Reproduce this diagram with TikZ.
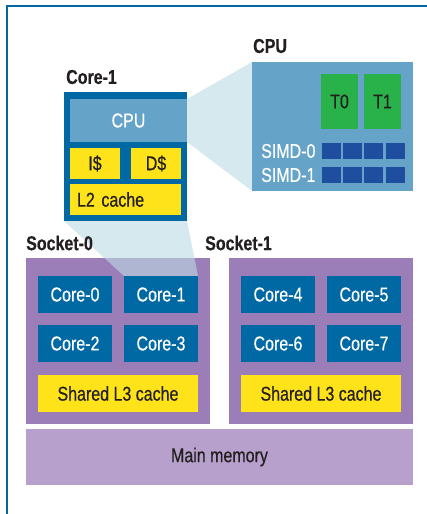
\documentclass[tikz,border=0pt]{standalone}
\usepackage{fontspec}
\setmainfont{Liberation Sans}[FakeStretch=0.8,FakeBold=0.5]
\usetikzlibrary{calc}

\definecolor{coreblue}{HTML}{0069A3}
\definecolor{cpublue}{HTML}{65A3C9}
\definecolor{zoomcyan}{HTML}{BCDBE3}
\definecolor{cacheyellow}{HTML}{FFE31A}
\definecolor{thrgreen}{HTML}{2AB24A}
\definecolor{simdblue}{HTML}{1F4E9E}
\definecolor{sockpurple}{HTML}{9B7EB7}
\definecolor{mempurple}{HTML}{B7A0CC}
\definecolor{ink}{HTML}{231F20}

\begin{document}
\begin{tikzpicture}[x=1pt,y=-1pt,font=\fontsize{20}{23}\selectfont,
	blk/.style={anchor=north west,inner sep=0pt,outer sep=0pt,text=ink},
	core/.style={blk,fill=coreblue,text=white,minimum width=74,minimum height=37},
	cache/.style={blk,fill=cacheyellow,minimum height=31},
	l3/.style={blk,fill=cacheyellow,minimum width=160,minimum height=37},
	thread/.style={blk,fill=thrgreen,minimum width=37,minimum height=55},
	simdsq/.style={blk,fill=simdblue,minimum width=19,minimum height=16},
	wedge/.style={fill=zoomcyan,opacity=0.61},
	title/.style={anchor=west,inner sep=0pt,font=\fontsize{20}{23}\selectfont\bfseries,text=ink}]
				  \useasboundingbox (0,0) rectangle (427,514);
				  \draw[coreblue,line width=2] (7,514) -- (7,6) -- (427,6);

				  % zoom wedge from the core to the CPU
				  \fill[wedge] (187,99) -- (252,62) -- (252,191) -- (187,142) -- cycle;

				  % one core, enlarged
				  \node[blk,fill=coreblue,minimum width=123,minimum height=129] (core1big) at (64,92) {};
				  \node[blk,fill=cpublue,text=white,minimum width=117,minimum height=43] (cpusmall) at (70,99) {CPU};
				  \node[cache,minimum width=50] (icache) at (70,148) {I\$};
				  \node[cache,minimum width=50] (dcache) at (131,148) {D\$};
				  \node[cache,text width=97,inner xsep=7,align=left] (l2) at (70,184) {L2 cache};

				  % the CPU, enlarged
				  \node[blk,fill=cpublue,minimum width=161,minimum height=129] (cpubig) at (252,62) {};
				  \node[thread] (t0) at (321,74) {T0};
				  \node[thread] (t1) at (364,74) {T1};
				  \node[anchor=west,inner sep=0pt,text=white] (simd0) at (261,151) {SIMD-0};
				  \node[anchor=west,inner sep=0pt,text=white] (simd1) at (261,175) {SIMD-1};
				  \foreach \r in {0,1}
				    \foreach \i in {0,...,3}
				      \node[simdsq] (sq\r\i) at ({322+21.2*\i},{143+24*\r}) {};

				  % sockets
				  \node[blk,fill=sockpurple,minimum width=184,minimum height=166] (sock0) at (26,258) {};
				  \node[blk,fill=sockpurple,minimum width=184,minimum height=166] (sock1) at (229,258) {};

				  % zoom wedge from the socket to the core
				  \fill[wedge] (core1big.south west) -- (core1big.south east) -- (198,276) -- (124,276) -- cycle;

				  \node[title] (core1lbl) at (66,77) {Core-1};
				  \node[title] (cpulbl) at (253,46) {CPU};
				  \node[title] (sock0lbl) at (26,243) {Socket-0};
				  \node[title] (sock1lbl) at (205,243) {Socket-1};

				  \node[core] (c0) at (38,276) {Core-0};
				  \node[core] (c1) at (124,276) {Core-1};
				  \node[core] (c2) at (38,325) {Core-2};
				  \node[core] (c3) at (124,325) {Core-3};
				  \node[l3] (l3a) at (38,375) {Shared L3 cache};
				  \node[core] (c4) at (241,276) {Core-4};
				  \node[core] (c5) at (327,276) {Core-5};
				  \node[core] (c6) at (241,325) {Core-6};
				  \node[core] (c7) at (327,325) {Core-7};
				  \node[l3] (l3b) at (241,375) {Shared L3 cache};

				  \node[blk,fill=mempurple,minimum width=387,minimum height=56] (mem) at (26,429) {Main memory};
\end{tikzpicture}
\end{document}
